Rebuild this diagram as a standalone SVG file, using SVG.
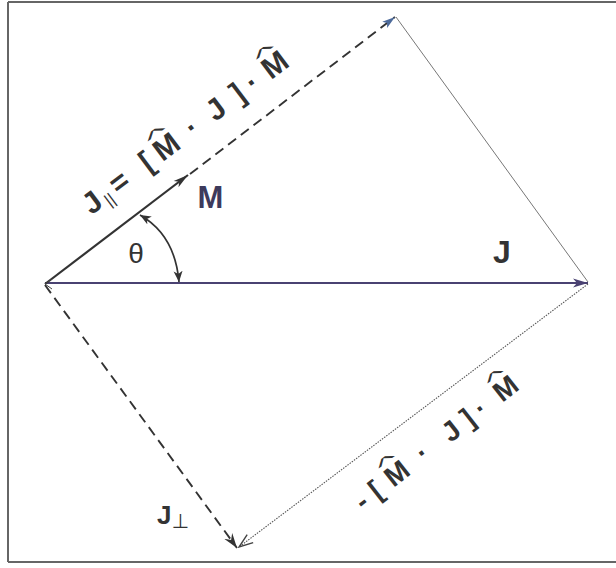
<svg xmlns="http://www.w3.org/2000/svg" width="616" height="568" viewBox="0 0 616 568">
<style>
.lbl{font-family:"Liberation Sans",Arial,"DejaVu Sans",sans-serif;font-weight:bold;fill:#333}
.hat{font-family:"Liberation Sans",Arial,sans-serif;font-size:30px;fill:#333;text-anchor:middle}
.sym{font-family:"DejaVu Sans","Liberation Sans",sans-serif;fill:#333}
.frame{stroke:#666;stroke-width:2;fill:none}
.dash{stroke:#333;stroke-width:1.9;fill:none;stroke-dasharray:10 6}
.thin{stroke:#777;stroke-width:1;fill:none}
.dot{stroke:#555;stroke-width:1.1;fill:none;stroke-dasharray:1.5 1.2}
</style>
<defs>
<marker id="ahJ" markerUnits="userSpaceOnUse" markerWidth="16" markerHeight="10" refX="15" refY="5" orient="auto"><path d="M0,0.5 L15,5 L0,9.5 L4,5 z" fill="#4a4272"/></marker>
<marker id="ahM" markerUnits="userSpaceOnUse" markerWidth="16" markerHeight="10" refX="15" refY="5" orient="auto"><path d="M0,1 L15,5 L0,9 L4,5 z" fill="#333"/></marker>
<marker id="ahT" markerUnits="userSpaceOnUse" markerWidth="14" markerHeight="10" refX="13" refY="5" orient="auto"><path d="M0,1 L13,5 L0,9 L3,5 z" fill="#4d6a9a"/></marker>
<marker id="ahB" markerUnits="userSpaceOnUse" markerWidth="16" markerHeight="12" refX="15" refY="6" orient="auto"><path d="M0,1 L15,6 L0,11 L5,6 z" fill="#333"/></marker>
<marker id="ahB2" markerUnits="userSpaceOnUse" markerWidth="16" markerHeight="12" refX="15" refY="6" orient="auto"><path d="M1,1 L15,6 L1,11" fill="none" stroke="#444" stroke-width="1.4"/></marker>
<marker id="ahArc" markerUnits="userSpaceOnUse" markerWidth="12" markerHeight="10" refX="11" refY="5" orient="auto-start-reverse"><path d="M0,0.5 L11,5 L0,9.5 L3,5 z" fill="#333"/></marker>
</defs>
<rect width="616" height="568" fill="#fff"/>
<g id="frame">
<line class="frame" x1="8" y1="2" x2="616" y2="2" stroke="#706a80"/>
<line class="frame" x1="8" y1="2" x2="8" y2="562"/>
<line class="frame" x1="8" y1="562" x2="616" y2="562" stroke="#555"/>
</g>
<g id="connectors">
<line id="vecJ" x1="45" y1="283" x2="588" y2="283" stroke="#4a4272" stroke-width="2.2" marker-end="url(#ahJ)"/>
<line id="vecM" x1="45" y1="284" x2="188" y2="175" stroke="#333" stroke-width="2.2" marker-end="url(#ahM)"/>
<line id="vecJpar" class="dash" x1="190" y1="174" x2="395" y2="17" marker-end="url(#ahT)"/>
<line id="topToJ" class="thin" x1="396" y1="17" x2="588" y2="282"/>
<line id="vecJperp" class="dash" x1="45" y1="285" x2="237" y2="548" marker-end="url(#ahB)"/>
<line id="jToB" class="dot" x1="588" y1="284" x2="239" y2="547" marker-end="url(#ahB2)"/>
<path id="originTick" d="M52,279 L45,284 L52,289" fill="none" stroke="#444" stroke-width="1"/>
<path id="thetaArc" d="M140,215 Q175,235 179,282" fill="none" stroke="#333" stroke-width="1.7" marker-start="url(#ahArc)" marker-end="url(#ahArc)"/>
</g>
<g id="labelM"><text class="lbl" x="210.5" y="208" font-size="31" text-anchor="middle" style="fill:#3d3a5c">M</text></g>
<g id="labelJ"><text class="lbl" x="502" y="263" font-size="32" text-anchor="middle">J</text></g>
<g id="labelTheta"><text x="136" y="263" font-family="Liberation Sans, Arial, sans-serif" font-size="28" text-anchor="middle" fill="#333">θ</text></g>
<g id="labelJperp"><text class="lbl" x="157" y="524" font-size="26">J<tspan class="sym" font-weight="normal" font-size="20" dy="4">⊥</tspan></text></g>
<g id="labelJpar" transform="translate(91,216) rotate(-37)">
<text class="lbl" font-size="30" text-anchor="middle"><tspan x="9" y="0">J</tspan><tspan x="25" y="4" font-size="17" font-weight="normal">||</tspan><tspan x="43" y="0">=</tspan><tspan x="77" y="0">[</tspan><tspan x="102" y="0">M</tspan><tspan x="133" y="-8">.</tspan><tspan x="164" y="0">J</tspan><tspan x="191" y="0">]</tspan><tspan x="209" y="0">·</tspan><tspan x="238" y="0">M</tspan></text>
<text class="hat" transform="translate(101,-20) scale(1.6,0.55)">^</text>
<text class="hat" transform="translate(237,-20) scale(1.6,0.55)">^</text>
</g>
<g id="labelProj" transform="translate(364,511) rotate(-38)">
<text class="lbl" font-size="28" text-anchor="middle"><tspan x="4" y="0">-</tspan><tspan x="22" y="0">[</tspan><tspan x="49" y="0">M</tspan><tspan x="81" y="-8">.</tspan><tspan x="118" y="0">J</tspan><tspan x="139" y="0">]</tspan><tspan x="155" y="0">·</tspan><tspan x="187" y="0">M</tspan></text>
<text class="hat" transform="translate(48,-19) scale(1.5,0.55)">^</text>
<text class="hat" transform="translate(186,-19) scale(1.5,0.55)">^</text>
</g>
</svg>
